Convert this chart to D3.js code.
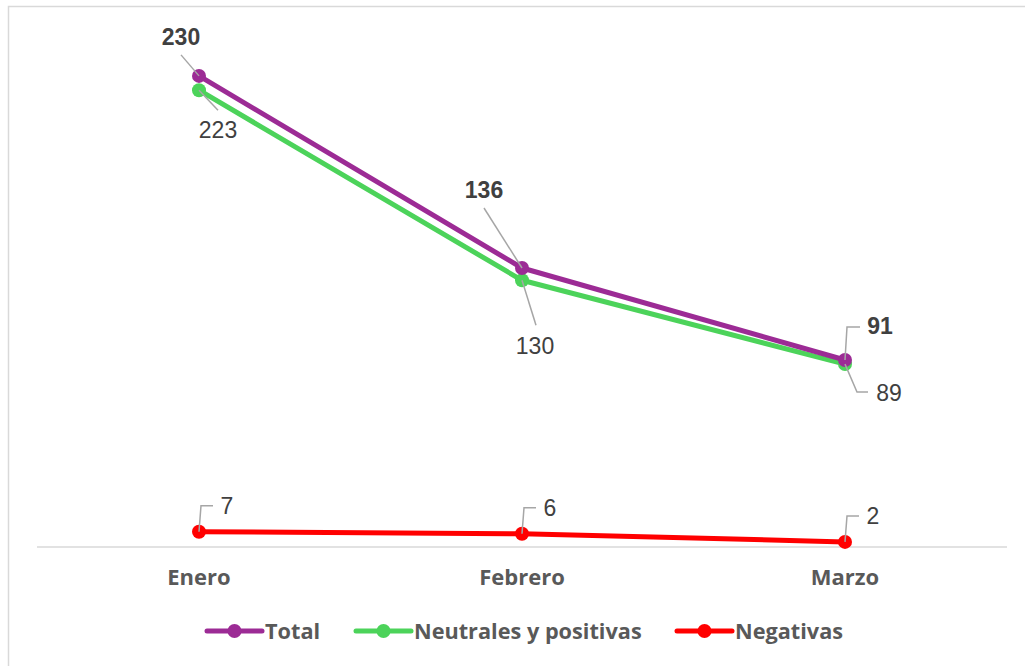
<!DOCTYPE html>
<html>
<head>
<meta charset="utf-8">
<script src="https://cdn.jsdelivr.net/npm/d3@7"></script>
<style>
  body { margin: 0; background: #fff; }
  svg { display: block; }
</style>
</head>
<body>
<script>
// data
const months = ["Enero", "Febrero", "Marzo"];
const total = [230, 136, 91];
const neutrales = [223, 130, 89];
const negativas = [7, 6, 2];

const w = 1025;
const h = 666;

const svg = d3.select("body")
  .append("svg")
  .attr("width", w)
  .attr("height", h);

// chart frame (only top + left visible in the picture)
svg.append("path")
  .attr("d", "M8.5,666 L8.5,6.5 L1025,6.5")
  .attr("fill", "none")
  .attr("stroke", "#d9d9d9")
  .attr("stroke-width", 1.5);

const x = d3.scalePoint()
  .domain(months)
  .range([199, 845]);

const y = d3.scaleLinear()
  .domain([0, 250])
  .range([546, 35]);

// baseline
svg.append("line")
  .attr("x1", 37).attr("x2", 1007)
  .attr("y1", y(0) + 1).attr("y2", y(0) + 1)
  .attr("stroke", "#d9d9d9")
  .attr("stroke-width", 1.5);

const catFont = "'Open Sans', sans-serif";

// month labels
svg.selectAll(".month")
  .data(months)
  .enter()
  .append("text")
  .attr("class", "month")
  .attr("x", d => x(d))
  .attr("y", 585)
  .attr("text-anchor", "middle")
  .attr("font-family", catFont)
  .attr("font-weight", "bold")
  .attr("font-size", 22)
  .attr("fill", "#595959")
  .text(d => d);

const series = [
  { name: "Total", values: total, color: "#9C2B95" },
  { name: "Neutrales y positivas", values: neutrales, color: "#4CD35A" },
  { name: "Negativas", values: negativas, color: "#FF0000" }
];

const line = d3.line()
  .x((d, i) => x(months[i]))
  .y(d => y(d));

// leader lines
const leaders = svg.append("g")
  .attr("fill", "none")
  .attr("stroke", "#a6a6a6")
  .attr("stroke-width", 1.5);

const totOff = [[-18, -21], [-38, -60], [2, -33]];
const neuOff = [[19, 20], [14, 45], [12, 28]];

total.forEach(function (v, i) {
  const px = x(months[i]), py = y(v);
  const o = totOff[i];
  if (i < 2) {
    leaders.append("path").attr("d", `M${px},${py} L${px + o[0]},${py + o[1]}`);
  } else {
    leaders.append("path").attr("d", `M${px},${py} L${px + o[0]},${py + o[1]} L${px + o[0] + 13},${py + o[1]}`);
  }
});
neutrales.forEach(function (v, i) {
  const px = x(months[i]), py = y(v);
  const o = neuOff[i];
  if (i < 2) {
    leaders.append("path").attr("d", `M${px},${py} L${px + o[0]},${py + o[1]}`);
  } else {
    leaders.append("path").attr("d", `M${px},${py} L${px + o[0]},${py + o[1]} L${px + o[0] + 11},${py + o[1]}`);
  }
});
negativas.forEach(function (v, i) {
  const px = x(months[i]), py = y(v);
  leaders.append("path").attr("d", `M${px},${py} L${px + 2},${py - 26} L${px + 14},${py - 26}`);
});

// lines + markers
series.slice().reverse().forEach(function (s) {
  svg.append("path")
    .datum(s.values)
    .attr("d", line)
    .attr("fill", "none")
    .attr("stroke", s.color)
    .attr("stroke-width", 5)
    .attr("stroke-linejoin", "round");
  svg.selectAll(null)
    .data(s.values)
    .enter()
    .append("circle")
    .attr("cx", (d, i) => x(months[i]))
    .attr("cy", d => y(d))
    .attr("r", 7)
    .attr("fill", s.color);
});

// leader tips sit over the markers
svg.append("g").node().appendChild(leaders.node());

const labelFont = "'Liberation Sans', Arial, sans-serif";

// total value labels
const totPos = [[181, 45], [484, 198], [880, 334]];
svg.selectAll(".lblTot")
  .data(total)
  .enter()
  .append("text")
  .attr("x", (d, i) => totPos[i][0])
  .attr("y", (d, i) => totPos[i][1])
  .attr("text-anchor", "middle")
  .attr("font-family", labelFont)
  .attr("font-weight", "bold")
  .attr("font-size", 23)
  .attr("fill", "#404040")
  .text(d => d);

const neuPos = [[218, 138], [535, 354], [889, 401]];
svg.selectAll(".lblNeu")
  .data(neutrales)
  .enter()
  .append("text")
  .attr("x", (d, i) => neuPos[i][0])
  .attr("y", (d, i) => neuPos[i][1])
  .attr("text-anchor", "middle")
  .attr("font-family", labelFont)
  .attr("font-size", 23)
  .attr("fill", "#404040")
  .text(d => d);

svg.selectAll(".lblNeg")
  .data(negativas)
  .enter()
  .append("text")
  .attr("x", (d, i) => x(months[i]) + 28)
  .attr("y", d => y(d) - 18)
  .attr("text-anchor", "middle")
  .attr("font-family", labelFont)
  .attr("font-size", 23)
  .attr("fill", "#404040")
  .text(d => d);

// legend
const legX = [207, 356, 677];
const legend = svg.selectAll(".leg")
  .data(series)
  .enter()
  .append("g")
  .attr("transform", (d, i) => `translate(${legX[i]},631)`);

legend.append("line")
  .attr("x1", 0).attr("x2", 55)
  .attr("stroke", d => d.color)
  .attr("stroke-width", 5)
  .attr("stroke-linecap", "round");
legend.append("circle")
  .attr("cx", 27.5)
  .attr("r", 7)
  .attr("fill", d => d.color);
legend.append("text")
  .attr("x", 58)
  .attr("y", 8)
  .attr("font-family", catFont)
  .attr("font-weight", "bold")
  .attr("font-size", 21.7)
  .attr("fill", "#595959")
  .text(d => d.name);
</script>
</body>
</html>
